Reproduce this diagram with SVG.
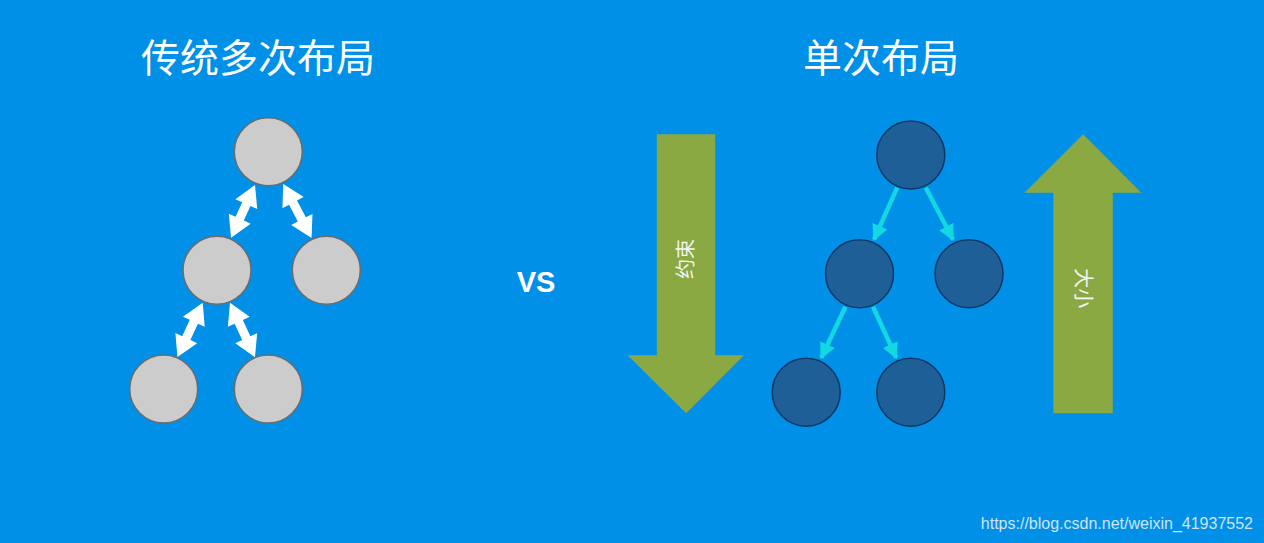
<svg xmlns="http://www.w3.org/2000/svg" width="1264" height="543" viewBox="0 0 1264 543">
<style>
.title{font-family:"Noto Sans CJK SC","Noto Sans",sans-serif;font-size:39px;fill:#ffffff;text-anchor:middle}
.gnode{fill:#cccccc;stroke:#6b6b6b;stroke-width:1.5}
.bnode{fill:#1f5f97;stroke:#0c3866;stroke-width:1.5}
.dbl{fill:#ffffff}
.cy{stroke:#12d8e2;stroke-width:4.5;fill:none}
.big{fill:#8aa942}
.vt{font-family:"Noto Sans CJK SC","Noto Sans",sans-serif;font-size:20px;fill:#f4f4f4;text-anchor:middle}
</style>
<defs>
<marker id="ch" viewBox="0 0 10 10" refX="9" refY="5" markerWidth="3.6" markerHeight="3.6" orient="auto" markerUnits="strokeWidth">
<path d="M0,0 L10,5 L0,10 Z" fill="#12d8e2"/>
</marker>
</defs>
<rect width="1264" height="543" fill="#0090e8"/>
<text class="title" x="258" y="72">传统多次布局</text>
<text class="title" x="881" y="72">单次布局</text>
<text x="536" y="292" font-family="Liberation Sans, Arial, sans-serif" font-weight="bold" font-size="29" fill="#ffffff" text-anchor="middle">VS</text>
<g id="connectors">
<polygon class="dbl" transform="translate(255,185) rotate(114.4)" points="0,0 21,-12 21,-4.5 37,-4.5 37,-12 58,0 37,12 37,4.5 21,4.5 21,12"/>
<polygon class="dbl" transform="translate(283.3,184) rotate(62.4)" points="0,0 21,-12 21,-4.5 40,-4.5 40,-12 61,0 40,12 40,4.5 21,4.5 21,12"/>
<polygon class="dbl" transform="translate(202.7,302.7) rotate(114.9)" points="0,0 21,-12 21,-4.5 39,-4.5 39,-12 60,0 39,12 39,4.5 21,4.5 21,12"/>
<polygon class="dbl" transform="translate(230,302.7) rotate(65.4)" points="0,0 21,-12 21,-4.5 39,-4.5 39,-12 60,0 39,12 39,4.5 21,4.5 21,12"/>
<line class="cy" x1="897.2" y1="187.7" x2="874" y2="239.5" marker-end="url(#ch)"/>
<line class="cy" x1="925.8" y1="187.7" x2="953" y2="239.5" marker-end="url(#ch)"/>
<line class="cy" x1="845.5" y1="306.7" x2="821.3" y2="357.8" marker-end="url(#ch)"/>
<line class="cy" x1="873.1" y1="306.7" x2="896.3" y2="357.8" marker-end="url(#ch)"/>
</g>
<g id="n-l-top"><circle class="gnode" cx="268.3" cy="151.7" r="34"/></g>
<g id="n-l-midleft"><circle class="gnode" cx="217" cy="270.3" r="34"/></g>
<g id="n-l-midright"><circle class="gnode" cx="326.3" cy="270.3" r="34"/></g>
<g id="n-l-botleft"><circle class="gnode" cx="163.7" cy="389" r="34"/></g>
<g id="n-l-botright"><circle class="gnode" cx="268.3" cy="389" r="34"/></g>
<g id="n-r-top"><circle class="bnode" cx="910.8" cy="155" r="34"/></g>
<g id="n-r-midleft"><circle class="bnode" cx="859.5" cy="273.7" r="34"/></g>
<g id="n-r-midright"><circle class="bnode" cx="969" cy="273.7" r="34"/></g>
<g id="n-r-botleft"><circle class="bnode" cx="806.2" cy="392.3" r="34"/></g>
<g id="n-r-botright"><circle class="bnode" cx="910.8" cy="392.3" r="34"/></g>
<g id="arrow-down">
<polygon class="big" points="656.8,134.3 715.2,134.3 715.2,355.3 744,355.3 686.2,413.3 627.6,355.3 656.8,355.3"/>
<text class="vt" transform="translate(686,259) rotate(-90)" y="7">约束</text>
</g>
<g id="arrow-up">
<polygon class="big" points="1053.4,413.3 1112.8,413.3 1112.8,192.7 1141.4,192.7 1083.1,134.3 1024.5,192.7 1053.4,192.7"/>
<text class="vt" transform="translate(1083.1,288.3) rotate(90)" y="7">大小</text>
</g>
<text x="1253" y="529" font-family="Liberation Sans, Arial, sans-serif" font-size="16" fill="#cfe4f6" text-anchor="end">https://blog.csdn.net/weixin_41937552</text>
</svg>
